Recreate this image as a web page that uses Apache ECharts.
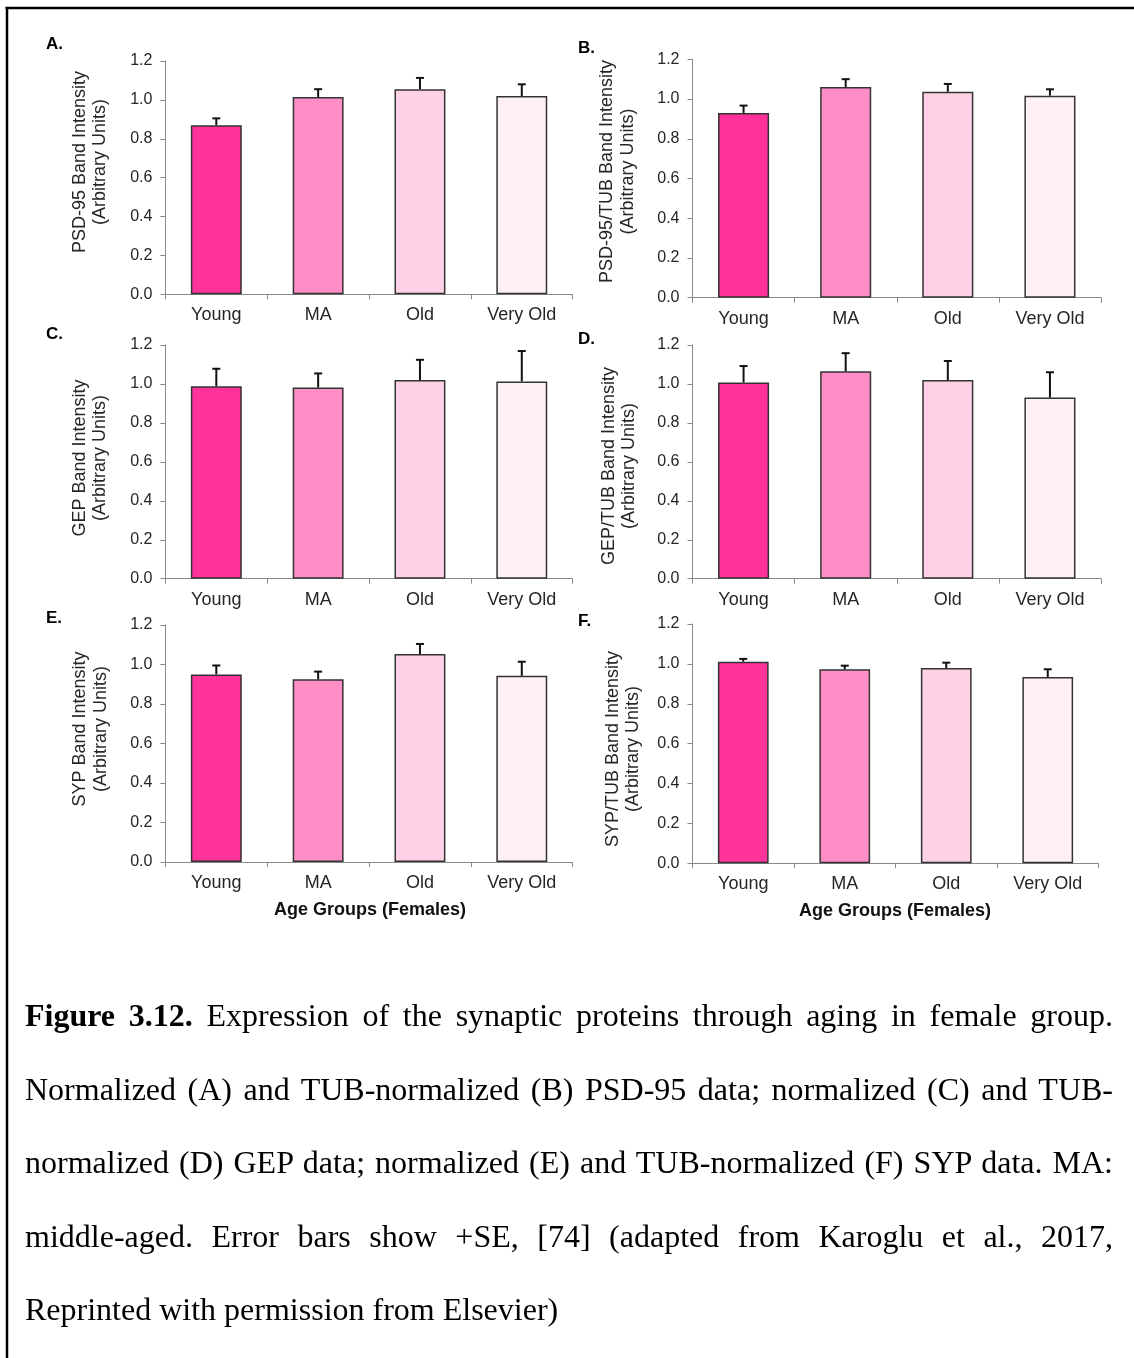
<!DOCTYPE html>
<html>
<head>
<meta charset="utf-8">
<title>Synaptic proteins through aging, female group</title>
<script src="https://cdn.jsdelivr.net/npm/echarts@6/dist/echarts.min.js"></script>
<style>
  html, body { margin: 0; padding: 0; background: #fff; }
  #wrap { position: relative; width: 1134px; height: 1358px; overflow: hidden; }
  #chart { position: absolute; left: 0; top: 0; width: 1134px; height: 1358px; }
  #caption {
    position: absolute; left: 25px; top: 979px;
    width: 1088px;
    font-family: "Liberation Serif", "Times New Roman", serif;
    font-size: 32px; color: #000;
  }
  #caption div { height: 73.5px; line-height: 73.5px; white-space: nowrap; }
  #caption div.j { white-space: normal; text-align: justify; text-align-last: justify; }
</style>
</head>
<body>
<div id="wrap">
  <div id="chart"></div>
  <div id="caption">
    <div class="j"><b>Figure 3.12.</b> Expression of the synaptic proteins through aging in female group.</div>
    <div class="j">Normalized (A) and TUB-normalized (B) PSD-95 data; normalized (C) and TUB-</div>
    <div class="j">normalized (D) GEP data; normalized (E) and TUB-normalized (F) SYP data. MA:</div>
    <div class="j">middle-aged. Error bars show +SE, [74] (adapted from Karoglu et al., 2017,</div>
    <div>Reprinted with permission from Elsevier)</div>
  </div>
</div>
<script>
// Age groups on the x axis
const categories = ['Young', 'MA', 'Old', 'Very Old'];

// Y axis tick values (arbitrary units)
const yTicks = [0.0, 0.2, 0.4, 0.6, 0.8, 1.0, 1.2];

// Mean band intensities and +SE for each panel
const psd95Mean = [0.870, 1.015, 1.055, 1.020];
const psd95Se = [0.035, 0.040, 0.058, 0.060];

const psd95TubMean = [0.930, 1.060, 1.037, 1.017];
const psd95TubSe = [0.037, 0.040, 0.039, 0.032];

const gepMean = [0.988, 0.982, 1.020, 1.013];
const gepSe = [0.090, 0.072, 0.104, 0.156];

const gepTubMean = [1.008, 1.065, 1.020, 0.930];
const gepTubSe = [0.084, 0.093, 0.098, 0.130];

const sypMean = [0.950, 0.925, 1.053, 0.943];
const sypSe = [0.045, 0.039, 0.051, 0.071];

const sypTubMean = [1.011, 0.973, 0.979, 0.934];
const sypTubSe = [0.014, 0.018, 0.027, 0.039];

// Panel letters and axis titles
const panelLetters = ['A.', 'B.', 'C.', 'D.', 'E.', 'F.'];
const yTitles = [
  'PSD-95 Band Intensity\n(Arbitrary Units)',
  'PSD-95/TUB Band Intensity\n(Arbitrary Units)',
  'GEP Band Intensity\n(Arbitrary Units)',
  'GEP/TUB Band Intensity\n(Arbitrary Units)',
  'SYP Band Intensity\n(Arbitrary Units)',
  'SYP/TUB Band Intensity\n(Arbitrary Units)'
];
const xTitle = 'Age Groups (Females)';

const panelMeans = [psd95Mean, psd95TubMean, gepMean, gepTubMean, sypMean, sypTubMean];
const panelSes = [psd95Se, psd95TubSe, gepSe, gepTubSe, sypSe, sypTubSe];

// Styling
const barColors = ['#ff3399', '#ff8ec6', '#ffd1e6', '#fff0f7'];
const FONT = '"Liberation Sans", Arial, sans-serif';
const axisGray = '#8a8a8a';
const textColor = '#262626';

// Plot area placement for the 3 x 2 panel grid
const layout = [
  { left: 165.4, top: 61,   width: 407.3, height: 233.3, lx: 46,  ly: 44,    tx: 89.8,  ty: 162 },
  { left: 692.5, top: 59.3, width: 408.5, height: 238.4, lx: 578, ly: 48.5,  tx: 617.7, ty: 171.5 },
  { left: 165.4, top: 345,  width: 407.3, height: 233.7, lx: 46,  ly: 334,   tx: 89.8,  ty: 458 },
  { left: 692.5, top: 345,  width: 408.5, height: 233.7, lx: 578, ly: 339,   tx: 618.8, ty: 466 },
  { left: 165.4, top: 625,  width: 407.3, height: 237,   lx: 46,  ly: 618.5, tx: 90.4,  ty: 729 },
  { left: 692.5, top: 624,  width: 406,   height: 239.3, lx: 578, ly: 621.5, tx: 623,   ty: 749 }
];
const xTitlePos = [null, null, null, null, { x: 370, y: 910 }, { x: 895, y: 911 }];

const grids = [], xAxes = [], yAxes = [], series = [], graphics = [];

layout.forEach((g, i) => {
  grids.push({ left: g.left, top: g.top, width: g.width, height: g.height, containLabel: false });

  xAxes.push({
    type: 'category', gridIndex: i, data: categories, boundaryGap: true,
    axisLine: { show: true, lineStyle: { color: axisGray, width: 1 } },
    axisTick: { show: true, alignWithLabel: false, length: 5, lineStyle: { color: axisGray } },
    axisLabel: { interval: 0, margin: 12, fontFamily: FONT, fontSize: 18, color: textColor },
    splitLine: { show: false }
  });

  yAxes.push({
    type: 'value', gridIndex: i,
    min: yTicks[0], max: yTicks[yTicks.length - 1], interval: yTicks[1] - yTicks[0],
    axisLine: { show: true, lineStyle: { color: axisGray, width: 1 } },
    axisTick: { show: true, length: 5, lineStyle: { color: axisGray } },
    axisLabel: { margin: 13, fontFamily: FONT, fontSize: 16, color: textColor,
                 formatter: v => v.toFixed(1) },
    splitLine: { show: false }
  });

  series.push({
    type: 'bar', xAxisIndex: i, yAxisIndex: i, barWidth: '50%',
    data: panelMeans[i].map((v, k) => ({
      value: v,
      itemStyle: { color: barColors[k], borderColor: '#333', borderWidth: 1.5 }
    })),
    emphasis: { disabled: true },
    z: 2
  });

  // +SE error bars: stem from the bar top with a short cap
  series.push({
    type: 'custom', xAxisIndex: i, yAxisIndex: i,
    data: panelMeans[i].map((v, k) => [k, v, panelSes[i][k]]),
    encode: { x: 0, y: 1 },
    renderItem: (params, api) => {
      const base = api.coord([api.value(0), api.value(1)]);
      const tip = api.coord([api.value(0), api.value(1) + api.value(2)]);
      const cap = 4;
      const st = { stroke: '#111', lineWidth: 2 };
      return {
        type: 'group',
        children: [
          { type: 'line', shape: { x1: base[0], y1: base[1], x2: tip[0], y2: tip[1] }, style: st },
          { type: 'line', shape: { x1: tip[0] - cap, y1: tip[1], x2: tip[0] + cap, y2: tip[1] }, style: st }
        ]
      };
    },
    z: 3
  });

  graphics.push({
    type: 'text', x: g.lx, y: g.ly,
    style: { text: panelLetters[i], font: 'bold 17px ' + FONT, fill: '#000',
             textAlign: 'left', textVerticalAlign: 'middle' }
  });

  graphics.push({
    type: 'text', x: g.tx, y: g.ty, rotation: Math.PI / 2,
    style: { text: yTitles[i], font: '18px ' + FONT, fill: textColor, lineHeight: 20.5,
             textAlign: 'center', textVerticalAlign: 'middle' }
  });

  if (xTitlePos[i]) {
    graphics.push({
      type: 'text', x: xTitlePos[i].x, y: xTitlePos[i].y,
      style: { text: xTitle, font: 'bold 18px ' + FONT, fill: '#111',
               textAlign: 'center', textVerticalAlign: 'middle' }
    });
  }
});

// Frame lines along the top and left edges
graphics.push({ type: 'line', shape: { x1: 5.5, y1: 8, x2: 1134, y2: 8 }, style: { stroke: '#000', lineWidth: 2.5 } });
graphics.push({ type: 'line', shape: { x1: 7, y1: 7, x2: 7, y2: 1358 }, style: { stroke: '#000', lineWidth: 2.5 } });

const chart = echarts.init(document.getElementById('chart'), null, { renderer: 'canvas' });
chart.setOption({
  backgroundColor: '#fff',
  animation: false,
  grid: grids,
  xAxis: xAxes,
  yAxis: yAxes,
  series: series,
  graphic: graphics
});
</script>
</body>
</html>
